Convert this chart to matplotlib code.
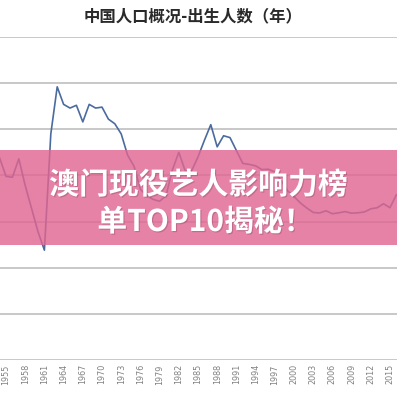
import matplotlib
matplotlib.use("Agg")
import matplotlib.pyplot as plt
import matplotlib.patheffects as pe
from matplotlib.patches import Rectangle

plt.rcParams['font.family'] = ['Noto Sans CJK SC', 'DejaVu Sans']

title = "中国人口概况-出生人数（年）"
banner_line1 = "澳门现役艺人影响力榜"
banner_line2 = "单TOP10揭秘！"

years = list(range(1954, 2017))
births = [2190, 1990, 1980, 2180, 1890, 1640, 1390, 1190, 2450, 2960,
          2770, 2730, 2760, 2580, 2770, 2730, 2740, 2610, 2560, 2450,
          2220, 2100, 1850, 1780, 1740, 1720, 1780, 2060, 2250, 2050,
          2050, 2200, 2380, 2550, 2310, 2430, 2410, 2270, 2130, 2120,
          2104, 2063, 2067, 2038, 1942, 1834, 1771, 1702, 1647, 1599,
          1593, 1617, 1585, 1595, 1608, 1591, 1595, 1604, 1638, 1650,
          1693, 1650, 1790]
tick_years = list(range(1955, 2016, 3))
y_grid = [0, 500, 1000, 1500, 2000, 2500, 3000, 3500]

W = H = 397
fig = plt.figure(figsize=(W / 100, H / 100), dpi=100)
fig.patch.set_facecolor('white')

ax = fig.add_axes([0, (H - 360) / H, 1, (360 - 37) / H])
ax.plot(years, births, color='#4b6b9e', lw=1.2, zorder=3)
ax.set_xlim(1954.06, 2016.1)
ax.set_ylim(0, 3500)
ax.set_yticks(y_grid)
ax.set_yticklabels([])
ax.tick_params(axis='y', length=0)
ax.grid(axis='y', color='#c4c4c4', lw=1.3, zorder=1)
for s in ax.spines.values():
    s.set_visible(False)
ax.set_xticks(tick_years)
ax.set_xticklabels([str(y) for y in tick_years], rotation=90,
                   fontsize=5.8, color='#808080', family='DejaVu Sans')
ax.tick_params(axis='x', length=0, pad=3)
ax.set_clip_on(False)

fig.text(0.487, 1 - 16 / H, title, ha='center', va='center',
         fontsize=11.8, fontweight='bold', color='#2a2a2a')

# pink banner
fig.patches.append(Rectangle((0, 1 - 245 / H), 1, 95 / H,
                             transform=fig.transFigure,
                             facecolor=(0.88, 0.40, 0.57), alpha=0.82,
                             edgecolor='none', zorder=5))
shadow = [pe.withSimplePatchShadow(offset=(0.8, -0.8), shadow_rgbFace='#804060', alpha=0.35)]
fig.text(0.5, 1 - 185 / H, banner_line1, ha='center', va='center',
         fontsize=21.5, fontweight='heavy', color='white', zorder=6,
         path_effects=shadow)
fig.text(0.5 + 7 / W, 1 - 222 / H, banner_line2, ha='center', va='center',
         fontsize=21.5, fontweight='heavy', color='white', zorder=6,
         path_effects=shadow)

fig.savefig('out.png', dpi=100)
